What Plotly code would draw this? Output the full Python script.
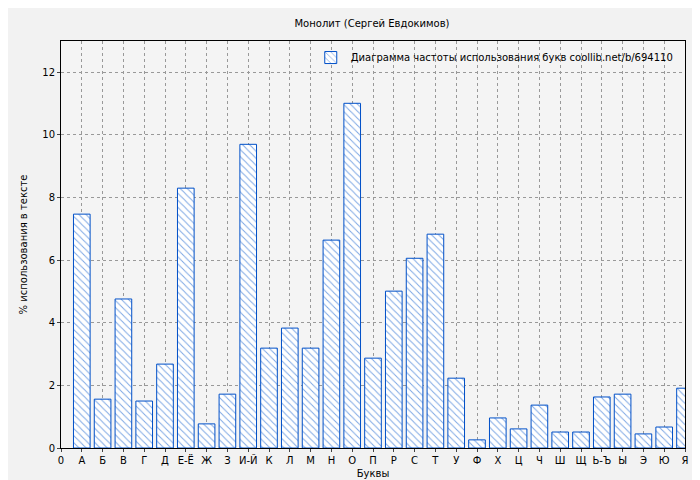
import plotly.graph_objects as go

letters = ["А","Б","В","Г","Д","Е-Ё","Ж","З","И-Й","К","Л","М","Н","О","П","Р","С","Т","У","Ф","Х","Ц","Ч","Ш","Щ","Ь-Ъ","Ы","Э","Ю","Я"]
values = [7.47,1.56,4.76,1.50,2.68,8.30,0.77,1.72,9.70,3.19,3.83,3.19,6.64,11.01,2.87,5.01,6.06,6.83,2.23,0.26,0.96,0.61,1.37,0.51,0.51,1.63,1.72,0.45,0.67,1.91]
positions = list(range(1, len(letters)+1))

fig = go.Figure(go.Bar(
    x=positions, y=values, width=0.8,
    name="Диаграмма частоты использования букв coollib.net/b/694110",
    marker=dict(color="white", line=dict(color="#0050c8", width=1),
                pattern=dict(shape="\\", fgcolor="#0050c8", bgcolor="white", size=5, solidity=0.2)),
))
grid = dict(showgrid=True, gridcolor="#999", griddash="dot", gridwidth=1)
fig.update_layout(
    width=700, height=480, paper_bgcolor="#f2f2f2", plot_bgcolor="#f4f4f4",
    margin=dict(l=53, r=23, t=33, b=40, autoexpand=False),
    font=dict(family="DejaVu Sans", size=11, color="#000"),
    title=dict(text="Монолит (Сергей Евдокимов)", x=0.52, y=0.975, xanchor="center", font=dict(size=10)),
    showlegend=True,
    legend=dict(x=0.99, y=0.995, xanchor="right", yanchor="top", bgcolor="rgba(0,0,0,0)", font=dict(size=10)),
    xaxis=dict(range=[0,30], tickmode="array", tickvals=[0]+positions, ticktext=["0"]+letters, automargin=False,
               title=dict(text="Буквы", standoff=4, font=dict(size=10)), tickfont=dict(size=10),
               showline=True, linecolor="#000", mirror=True, ticks="outside", ticklen=3, zeroline=False, **grid),
    yaxis=dict(range=[0,13], dtick=2, automargin=False, tickfont=dict(size=10),
               title=dict(text="% использования в тексте", standoff=12, font=dict(size=10)),
               showline=True, linecolor="#000", mirror=True, ticks="outside", ticklen=3, zeroline=False, **grid),
)
fig.write_html("out.html")
